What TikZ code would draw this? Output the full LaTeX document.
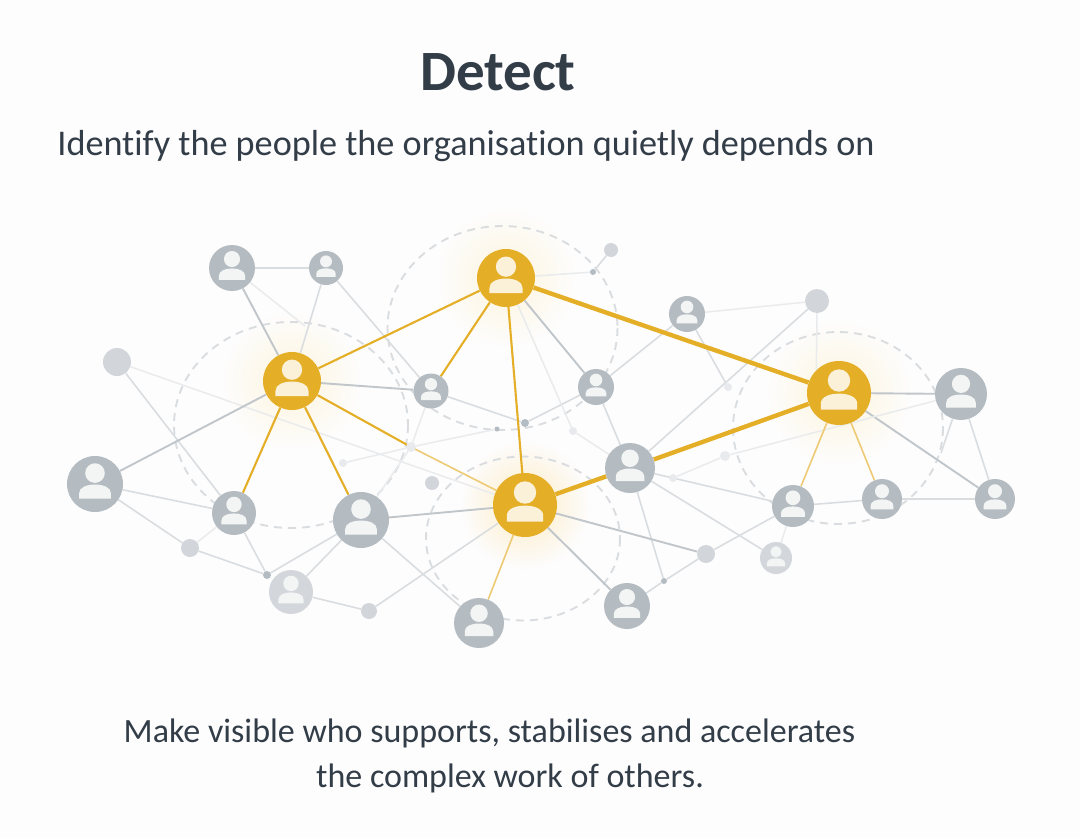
\documentclass[tikz,border=0pt]{standalone}
\usepackage{fontspec}
\setmainfont{Carlito}[Ligatures=CommonOff]
\usepackage{tikz}
\usetikzlibrary{backgrounds, calc}
\usepackage{xcolor}
\definecolor{pagebg}{HTML}{FDFDFE}
\definecolor{inkdark}{HTML}{323D48}
\definecolor{hubgold}{HTML}{E4AE27}
\definecolor{hubcream}{HTML}{FBF1D8}
\definecolor{glowgold}{HTML}{FDF4DC}
\definecolor{glowstrong}{HTML}{FCEBC4}
\definecolor{persongrey}{HTML}{B5BCC1}
\definecolor{palegrey}{HTML}{D3D7DC}
\definecolor{iconlight}{HTML}{F3F5F5}
\definecolor{dotgrey}{HTML}{D2D6DB}
\definecolor{dotdark}{HTML}{B4BCC3}
\definecolor{dotfaint}{HTML}{E8EAED}
\definecolor{ringline}{HTML}{DADDE0}

\begin{document}
\begin{tikzpicture}[
  x=1pt, y=-1pt,
  personIcon/.style n args={3}{circle, inner sep=0pt, minimum size=2pt*#1, fill=#2, path picture={
    \begin{scope}[shift={(path picture bounding box.center)}, x=#1pt, y=-#1pt]
      \fill[#3] (0,-0.39) circle[radius=0.35];
      \fill[#3] (-0.57,0.52) -- (-0.57,0.34) .. controls (-0.57,0.12) and (-0.30,0.02) .. (0,0.02) .. controls (0.30,0.02) and (0.57,0.12) .. (0.57,0.34) -- (0.57,0.52) -- cycle;
    \end{scope}}},
  hubNode/.style={personIcon={#1}{hubgold}{hubcream}},
  personNode/.style={personIcon={#1}{persongrey}{iconlight}},
  paleNode/.style={personIcon={#1}{palegrey}{iconlight}},
  dotNode/.style={circle, inner sep=0pt, minimum size=2pt*#1, fill=dotgrey},
  darkDot/.style={circle, inner sep=0pt, minimum size=2pt*#1, fill=dotdark},
  faintDot/.style={circle, inner sep=0pt, minimum size=2pt*#1, fill=dotfaint},
  ringLine/.style={draw=ringline, line width=1.9pt, dash pattern=on 8pt off 6pt},
  goldThick/.style={draw=hubgold, line width=4.4pt},
  goldLine/.style={draw=hubgold, line width=2.1pt},
  goldPale/.style={draw=hubgold!65, line width=1.6pt},
  midLine/.style={draw=persongrey!85, line width=1.9pt},
  softLine/.style={draw=persongrey!50, line width=1.6pt},
  faintLine/.style={draw=persongrey!30, line width=1.5pt},
  titleText/.style={font=\fontsize{57}{60}\selectfont\bfseries, text=inkdark, anchor=base},
  leadText/.style={font=\fontsize{36.2}{40}\selectfont, text=inkdark, anchor=base},
  closeText/.style={font=\fontsize{34}{40}\selectfont, text=inkdark, anchor=base}
]
\useasboundingbox (0,0) rectangle (1080,838);

% Texts
\node[titleText] (title) at (498,90) {Detect};
\node[leadText] (subtitle) at (466,155) {Identify the people the organisation quietly depends on};
\node[closeText] (closeA) at (489.5,742) {Make visible who supports, stabilises and accelerates};
\node[closeText] (closeB) at (510,787) {the complex work of others.};

% Hubs
\node[hubNode=29] (hubWest) at (292,381) {};
\node[hubNode=29] (hubNorth) at (506,278) {};
\node[hubNode=32] (hubEast) at (839,393) {};
\node[hubNode=32] (hubSouth) at (525,505) {};

% People
\node[personNode=23] (annaTop) at (232,268) {};
\node[personNode=17] (benTop) at (326,268) {};
\node[personNode=17.5] (carlMid) at (431,391) {};
\node[personNode=18] (daraMid) at (596,387) {};
\node[personNode=18] (eliTop) at (687,314) {};
\node[personNode=26] (finnEast) at (961,394) {};
\node[personNode=28] (gretaWest) at (95,484) {};
\node[personNode=22] (hanaLow) at (234,513) {};
\node[personNode=28] (ivoLow) at (361,520) {};
\node[paleNode=22] (janLow) at (291,592) {};
\node[personNode=25] (kaiBottom) at (479,623) {};
\node[personNode=25] (liaCentre) at (630,468) {};
\node[personNode=21] (maxLow) at (793,506) {};
\node[personNode=20] (ninaLow) at (882,499) {};
\node[personNode=20] (omarEast) at (995,499) {};
\node[paleNode=16] (pilarLow) at (776,558) {};
\node[personNode=23] (quinnBottom) at (627,606) {};

% Small dots
\node[dotNode=14] (dotWest) at (117,362) {};
\node[dotNode=7] (dotNorth) at (611,250) {};
\node[dotNode=12] (dotEast) at (817,301) {};
\node[dotNode=9] (dotLowA) at (190,548) {};
\node[darkDot=4] (dotLowB) at (267,575) {};
\node[dotNode=8] (dotLowC) at (369,611) {};
\node[dotNode=7] (dotMidA) at (432,483) {};
\node[dotNode=9] (dotLowD) at (706,554) {};
\node[darkDot=3] (dotLowE) at (664,581) {};
\node[darkDot=4] (dotMidB) at (525,423) {};
\node[faintDot=4] (dotMidC) at (573,431) {};
\node[faintDot=4] (dotMidD) at (728,387) {};
\node[faintDot=4] (dotMidE) at (343,463) {};
\node[faintDot=5] (dotMidF) at (411,447) {};
\node[faintDot=5] (dotMidG) at (725,456) {};
\node[faintDot=4] (dotMidH) at (673,478) {};
\node[darkDot=3] (dotTop) at (593,272) {};
\node[darkDot=2.5] (dotMidI) at (497,429) {};
\coordinate (fadeEnd) at (305,326);
\coordinate (fadeEast) at (941,453);

% Background layers
\begin{scope}[on background layer]
  \fill[pagebg] (0,0) rectangle (1080,838);

  \shade[inner color=glowgold, outer color=pagebg] (hubWest) circle[radius=72];
  \shade[inner color=glowgold, outer color=pagebg] (hubNorth) circle[radius=72];
  \shade[inner color=glowgold, outer color=pagebg] (hubEast) circle[radius=75];
  \shade[inner color=glowstrong, outer color=pagebg] (hubSouth) circle[radius=66];

  \draw[ringLine] (291,425) ellipse[x radius=117, y radius=103];
  \draw[ringLine] (502.5,328) ellipse[x radius=115, y radius=102];
  \draw[ringLine] (838,428) ellipse[x radius=105, y radius=96];
  \draw[ringLine] (523,538.5) ellipse[x radius=97, y radius=82];

  % West side
  \draw[softLine] (annaTop) -- (benTop);
  \draw[midLine] (annaTop) -- (hubWest);
  \draw[faintLine] (annaTop) -- (fadeEnd);
  \draw[softLine] (benTop) -- (hubWest);
  \draw[softLine] (benTop) -- (carlMid);
  \draw[faintLine] (dotWest) -- (hubSouth);
  \draw[softLine] (dotWest) -- (hanaLow);
  \draw[midLine] (hubWest) -- (gretaWest);
  \draw[midLine] (hubWest) -- (carlMid);
  \draw[softLine] (gretaWest) -- (hanaLow);
  \draw[softLine] (gretaWest) -- (dotLowA);
  \draw[faintLine] (dotLowA) -- (hanaLow);
  \draw[softLine] (dotLowA) -- (dotLowB);
  \draw[softLine] (hanaLow) -- (dotLowB);
  \draw[softLine] (dotLowB) -- (ivoLow);
  \draw[softLine] (ivoLow) -- (janLow);
  \draw[softLine] (janLow) -- (dotLowC);
  \draw[softLine] (dotLowC) -- (hubSouth);
  \draw[softLine] (ivoLow) -- (kaiBottom);
  \draw[midLine] (ivoLow) -- (hubSouth);

  % Centre
  \draw[softLine] (carlMid) -- (dotMidB);
  \draw[softLine] (dotMidB) -- (daraMid);
  \draw[faintLine] (carlMid) -- (dotMidF);
  \draw[faintLine] (dotMidF) -- (ivoLow);
  \draw[faintLine] (dotMidE) -- (dotMidF);
  \draw[faintLine] (dotMidF) -- (dotMidI);
  \draw[faintLine] (hubNorth) -- (dotMidC);
  \draw[faintLine] (dotMidC) -- (liaCentre);
  \draw[faintLine] (hubNorth) -- (dotTop);
  \draw[softLine] (dotTop) -- (dotNorth);
  \draw[midLine] (hubNorth) -- (daraMid);
  \draw[softLine] (daraMid) -- (eliTop);
  \draw[softLine] (daraMid) -- (liaCentre);

  % East side
  \draw[faintLine] (eliTop) -- (dotEast);
  \draw[softLine] (eliTop) -- (dotMidD);
  \draw[softLine] (dotEast) -- (liaCentre);
  \draw[faintLine] (dotEast.south) -- (hubEast.135);
  \draw[midLine] (hubEast) -- (finnEast);
  \draw[midLine] (hubEast) -- (omarEast);
  \draw[softLine] (finnEast) -- (fadeEast);
  \draw[softLine] (finnEast) -- (omarEast);
  \draw[faintLine] (finnEast) -- (dotMidG);
  \draw[faintLine] (dotMidG) -- (dotMidH);
  \draw[softLine] (ninaLow) -- (omarEast);
  \draw[softLine] (maxLow) -- (ninaLow);
  \draw[softLine] (liaCentre) -- (maxLow);
  \draw[softLine] (liaCentre) -- (pilarLow);
  \draw[softLine] (liaCentre) -- (dotLowE);
  \draw[softLine] (maxLow) -- (dotLowD);
  \draw[faintLine] (maxLow) -- (pilarLow);
  \draw[softLine] (dotLowD) -- (dotLowE);
  \draw[softLine] (dotLowE) -- (quinnBottom);
  \draw[midLine] (hubSouth) -- (dotLowD);
  \draw[midLine] (hubSouth) -- (quinnBottom);

  % Gold links
  \coordinate (westSplit) at (dotMidF);
  \draw[goldLine] (hubWest) -- (hubNorth);
  \draw[goldLine] (hubNorth) -- (carlMid);
  \draw[goldLine] (hubNorth) -- (hubSouth);
  \draw[goldLine] (hubWest) -- (hanaLow);
  \draw[goldLine] (hubWest) -- (ivoLow);
  \draw[goldLine] (hubWest) -- (westSplit);
  \draw[goldPale] (westSplit) -- (hubSouth);
  \draw[goldPale] (hubSouth) -- (kaiBottom);
  \draw[goldPale] (hubEast) -- (maxLow);
  \draw[goldPale] (hubEast) -- (ninaLow);
  \draw[goldThick] (hubNorth) -- (hubEast);
  \draw[goldThick] (hubEast) -- (liaCentre);
  \draw[goldThick] (liaCentre) -- (hubSouth);
\end{scope}

\end{tikzpicture}
\end{document}
